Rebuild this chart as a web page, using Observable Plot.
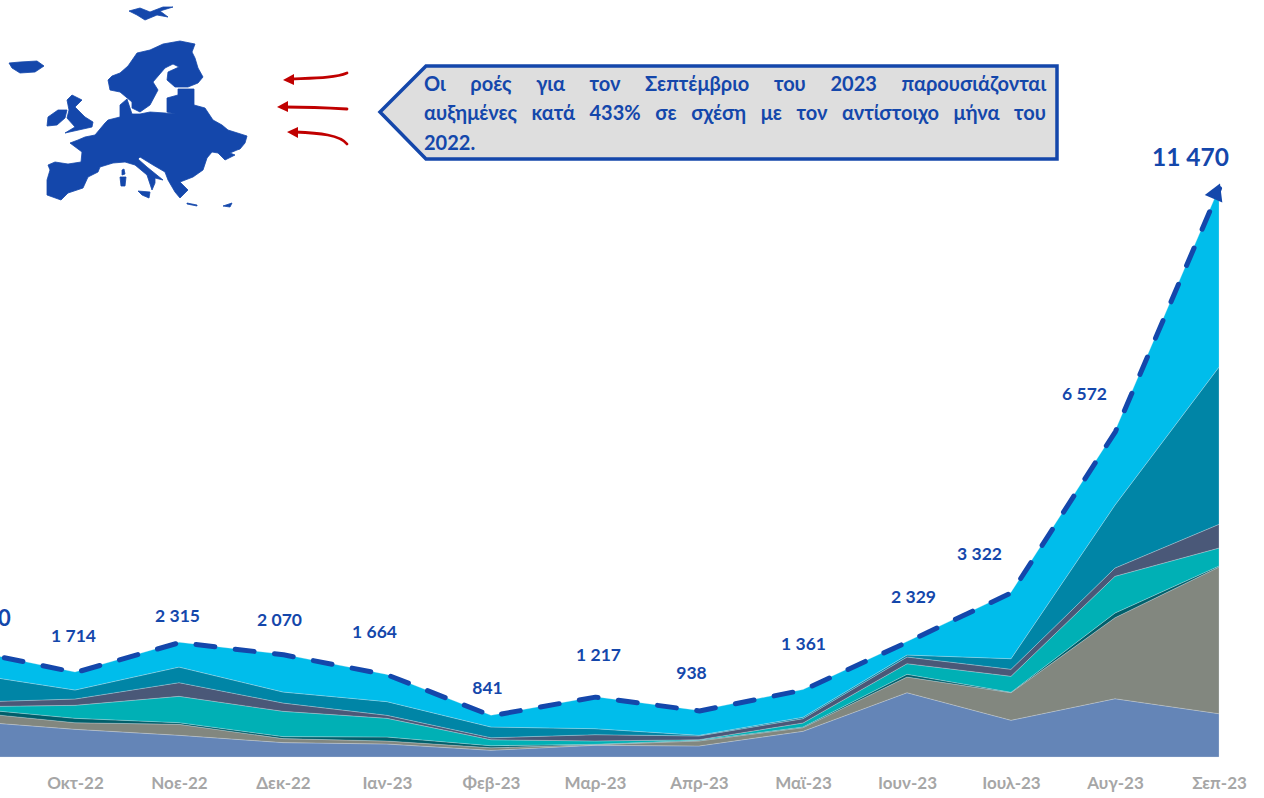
<!DOCTYPE html>
<html lang="el">
<head>
<meta charset="utf-8">
<script src="https://cdn.jsdelivr.net/npm/d3@7"></script>
<script src="https://cdn.jsdelivr.net/npm/@observablehq/plot@0.6"></script>
<style>
html,body{margin:0;padding:0;background:#fff;width:1264px;height:798px;overflow:hidden}
#wrap{position:relative;width:1264px;height:798px}
#wrap svg{display:block}
#chart{position:absolute;left:0;top:0}
#deco{position:absolute;left:0;top:0}
#note{position:absolute;left:424px;top:68.5px;width:622px;color:#1447AB;font:700 20px/29.5px "Lato","Noto Sans",sans-serif}
#note div{text-align:justify;text-align-last:justify;height:29.5px}
#note div.last{text-align-last:left}
</style>
</head>
<body>
<div id="wrap">
<div id="chart"></div>
<svg id="deco" width="1264" height="798" viewBox="0 0 1264 798" style="pointer-events:none">
  <polygon points="426,66 1057,66 1057,159 426,159 380,112" fill="#DEDEDE" stroke="#1447AB" stroke-width="3.5"/>
  <g fill="#1447AB" stroke="#1447AB" stroke-width="0.8" stroke-linejoin="round">
    <path d="M70 143L78 140L85 137L95 135L105 123L108 120L120 117L120 105L127 99L130 108L132 114L140 114L150 112L165 113L175 114L167 112L167 98L178 95L178 89L194 89L194 105L205 108L213 120L222 125L228 130L247 136L245 143L240 149L237 150L230 153L235 155L225 160L218 153L212 152L207 158L203 170L193 177L180 182L188 190L180 198L175 192L168 180L165 172L153 165L140 157L138 159L147 167L163 180L155 178L155 183L152 190L147 175L135 165L125 162L113 163L100 167L98 172L88 177L83 188L68 193L61 200L47 195L47 180L50 170L48 165L55 162L68 164L81 162L82 152Z"/>
    <path d="M108 80L112 76L120 73L128 66L137 53L150 50L163 44L180 41L195 44L192 52L195 58L198 68L203 77L198 83L188 87L175 87L167 80L168 72L179 67L173 64L165 68L153 82L158 90L150 105L140 112L132 108L132 102L120 92L110 90Z"/>
    <path d="M67 100L72 95L82 100L75 107L85 117L93 122L92 127L65 133L75 127L67 118L69 110Z"/>
    <path d="M48 117L58 110L67 110L65 118L57 125L47 126Z"/>
    <path d="M9 63L20 62L37 61L44 66L35 72L20 73L12 68Z"/>
    <path d="M129 11L140 8L150 12L163 7L173 7L160 11L168 17L157 15L145 20L137 15Z"/>
    <path d="M122 170L124 169L125 174L122 175Z"/>
    <path d="M120 177L126 177L125 186L121 186Z"/>
    <path d="M138 191L150 192L149 198L142 195Z"/>
    <path d="M187 203L197 205L197 206L187 204Z"/>
    <path d="M223 206L232 203L230 207Z"/>
  </g>
  <g fill="none" stroke="#C00000" stroke-width="2.8" stroke-linecap="round">
    <path d="M347 73C335 78 315 78 291 79"/>
    <path d="M347 109C330 108 310 107 285 107"/>
    <path d="M347 144C340 135 320 133 295 132"/>
  </g>
  <g fill="#C00000">
    <polygon points="283,80 294,74 294,85"/>
    <polygon points="277,107 288,101 288,112"/>
    <polygon points="287,132 298,127 298,138"/>
  </g>
</svg>
<div id="note"><div>Οι ροές για τον Σεπτέμβριο του 2023 παρουσιάζονται</div><div>αυξημένες κατά 433% σε σχέση με τον αντίστοιχο μήνα του</div><div class="last">2022.</div></div>
</div>
<script>
const months = ["Σεπ-22","Οκτ-22","Νοε-22","Δεκ-22","Ιαν-23","Φεβ-23","Μαρ-23","Απρ-23","Μαϊ-23","Ιουν-23","Ιουλ-23","Αυγ-23","Σεπ-23"];
const totals = [2150,1714,2315,2070,1664,841,1217,938,1361,2329,3322,6572,11470];
const seriesA = [720,558,437,290,262,135,236,222,518,1296,740,1175,873];
const seriesB = [181,133,222,81,60,52,12,101,73,317,556,1633,2957];
const seriesC = [77,89,34,40,81,40,8,14,14,54,8,95,20];
const seriesD = [36,262,530,510,377,121,67,12,81,214,323,740,363];
const seriesE = [91,127,276,167,60,40,127,75,87,135,141,167,478];
const seriesF = [569,181,314,222,276,216,121,14,28,40,214,1270,3171];
const seriesG = [476,364,502,760,548,237,646,500,560,273,1340,1492,3608];

const seriesList = [["A",seriesA],["B",seriesB],["C",seriesC],["D",seriesD],["E",seriesE],["F",seriesF],["G",seriesG]];
const colors = ["#6485B7","#82877F","#005F6B","#00B0B5","#4A5878","#0085A6","#00BDEB"];
const long = seriesList.flatMap(([name, vals]) => vals.map((v,i) => ({month: months[i], series: name, value: v})));
const tot = months.map((m,i) => ({month: m, total: totals[i]}));
const fmt = v => String(v).replace(/\B(?=(\d{3})+$)/g, " ");

// label placement relative to each month's total
const labelLayout = [
  {dx:11,dy:-32,size:22},{dx:-2,dy:-36,size:17.5},{dx:-2,dy:-26,size:17.5},{dx:-4,dy:-34,size:17.5},
  {dx:-13,dy:-43,size:17.5},{dx:-4,dy:-27,size:17.5},{dx:3,dy:-42,size:17.5},{dx:-8,dy:-38,size:17.5},
  {dx:0,dy:-46,size:17.5},{dx:6,dy:-45,size:17.5},{dx:-32,dy:-38,size:17.5},{dx:-31,dy:-37,size:17.5},{dx:-29,dy:-30,size:24.5}
];
const labelMarks = tot.map((d,i) => Plot.text([d], {
  x:"month", y:"total", text: t => fmt(t.total),
  dx: labelLayout[i].dx, dy: labelLayout[i].dy,
  fontSize: labelLayout[i].size, fontWeight: 700, fill:"#1447AB",
  fontFamily:'"Lato","Noto Sans",sans-serif'
}));

const plot = Plot.plot({
  width:1264, height:798, margin:0, marginBottom:41,
  style:{background:"transparent", overflow:"hidden", fontFamily:'"Lato","Noto Sans",sans-serif'},
  x:{type:"point", domain:months, range:[-30,1219], padding:0, label:null},
  y:{domain:[0,15262], range:[757,0], axis:null},
  color:{domain:["A","B","C","D","E","F","G"], range:colors},
  marks:[
    Plot.areaY(long,{x:"month", y:"value", z:"series", fill:"series", stroke:"#dfe6ee", strokeWidth:0.4, strokeOpacity:0.7}),
    Plot.lineY(tot,{x:"month", y:"total", stroke:"#1447AB", strokeWidth:5, strokeLinecap:"round", strokeDasharray:"19 20.5", strokeDashoffset:6}),
    Plot.dot(tot.slice(-1),{x:"month", y:"total", symbol:"triangle", r:7.07, rotate:23, dx:-3.8, dy:5.1, fill:"#1447AB", stroke:"none"}),
    ...labelMarks,
    Plot.axisX({anchor:"bottom", tickSize:0, tickPadding:19, label:null, fontSize:17, fontWeight:700, fill:"#A6A6A6", textStroke:"none"})
  ]
});
document.getElementById("chart").appendChild(plot);
</script>
</body>
</html>
